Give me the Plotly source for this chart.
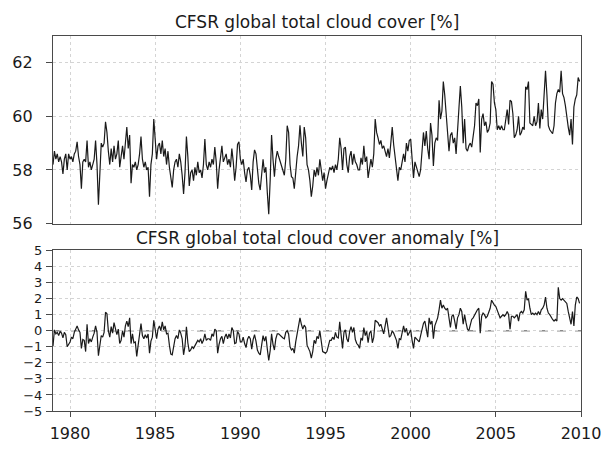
import plotly.graph_objects as go

start_year = 1979
n_years = 31

# monthly global total cloud cover [%], one row per year (Jan..Dec), 1979-2009
total_cover = [
    58.2, 58.7, 58.4, 58.6, 58.3, 58.5, 58.3, 57.85, 58.4, 58.6, 58.0, 58.6,
    58.4, 58.5, 58.3, 58.6, 58.7, 59.05, 58.5, 58.2, 57.3, 58.3, 58.4, 58.3,
    59.1, 58.1, 58.3, 58.0, 58.2, 58.4, 59.1, 58.2, 56.7, 57.8, 59.0, 58.85,
    59.0, 59.8, 59.4, 58.7, 58.2, 58.8, 58.3, 58.9, 58.4, 58.6, 59.1, 58.1,
    58.5, 58.9, 58.4, 59.0, 59.6, 58.8, 59.3, 57.5, 58.2, 58.1, 58.3, 58.0,
    58.2, 58.6, 59.25, 58.4, 58.1, 58.3, 58.0, 58.1, 57.0, 58.2, 58.6, 59.9,
    59.2, 58.4, 58.9, 59.0, 58.6, 59.1, 58.5, 58.8, 58.2, 58.7, 58.1, 57.8,
    57.35, 58.0, 58.3, 58.4, 58.1, 58.6, 58.3, 57.8, 57.1, 57.9, 59.25, 58.5,
    57.4, 57.9, 58.0, 57.6, 58.1, 57.8, 58.3, 57.9, 58.0, 57.7, 58.2, 59.15,
    58.2, 58.0, 58.3, 58.1, 58.4, 58.2, 58.85, 58.3, 57.3, 58.0, 58.5, 58.9,
    58.3, 58.5, 58.6, 58.2, 58.4, 58.1, 58.8, 58.3, 57.6, 58.1, 58.95, 59.05,
    58.4, 58.2, 58.4, 57.9, 57.55, 58.0, 58.1, 57.8, 57.25, 58.3, 58.75, 58.6,
    57.9, 57.5, 57.25, 57.8, 58.4, 57.9, 58.1, 57.15, 56.35, 57.6, 59.3, 58.4,
    57.75, 58.4, 58.7, 58.5, 58.3, 58.2, 58.0, 57.8, 58.4, 59.65, 59.4, 58.2,
    57.75, 57.7, 57.3, 58.0, 58.5, 58.9, 59.67, 59.0, 58.5, 59.6, 59.2, 58.2,
    58.0, 57.6, 57.0, 57.4, 58.0, 57.75, 58.1, 57.8, 58.4, 58.0, 57.6, 57.9,
    57.3, 57.6, 57.9, 58.1, 58.0, 58.15, 57.9, 58.2, 58.0, 58.4, 59.2, 58.8,
    58.0, 58.8, 58.85, 58.2, 57.9, 58.5, 58.7, 58.2, 58.6, 58.3, 58.2, 58.0,
    58.0, 58.45, 58.2, 58.9, 58.3, 58.5, 57.7, 58.15, 58.4, 58.1, 58.6, 59.9,
    59.4, 59.2, 58.95, 59.1, 58.8, 58.9, 58.7, 58.5, 58.8, 58.45, 59.0, 59.6,
    58.95, 58.45, 58.2, 57.6, 58.1, 58.0, 58.3, 58.6, 58.3, 59.0, 58.7, 59.1,
    59.15, 58.3, 57.7, 58.3, 58.1, 57.95, 57.75, 58.0, 58.6, 59.4, 58.9, 59.45,
    58.8, 58.4, 59.75, 59.3, 58.15, 59.0, 59.2, 59.1, 60.6, 59.9, 60.2, 61.3,
    60.8, 60.1, 59.75, 58.7, 59.3, 59.4, 59.0, 59.2, 58.6, 59.65, 60.3, 61.13,
    60.35, 59.0, 59.9, 58.8, 58.7, 58.9, 59.0, 58.85, 59.3, 59.65, 60.5, 60.4,
    60.65, 58.65, 59.9, 60.1, 59.65, 59.8, 59.4, 59.5, 59.75, 61.3, 61.2, 60.5,
    60.25, 59.5, 59.65, 59.5, 59.65, 59.5, 59.5, 59.8, 60.25, 59.7, 60.6, 60.55,
    60.1, 59.2, 59.3, 59.5, 60.0, 59.3, 59.4, 59.6, 59.5, 61.1, 61.0, 61.3,
    59.75, 59.7, 59.65, 60.0, 59.65, 59.8, 60.5, 59.55, 60.25, 59.9, 60.8, 61.7,
    60.8, 59.65, 59.5, 59.4, 59.35, 59.65, 60.5, 60.85, 61.0, 60.9, 61.7, 60.85,
    60.7, 60.4, 59.9, 59.6, 59.3, 59.9, 58.95, 60.35, 60.65, 60.8, 61.45, 61.3,
]

# monthly anomaly [%], one row per year (Jan..Dec), 1979-2009
anomaly = [
    -0.95, 0.05, -0.2, -0.1, -0.3, -0.05, -0.15, -0.45, -0.1, -0.25, -1.0, -0.85,
    -0.7, -0.4, -0.5, -0.1, 0.1, 0.3, 0.05, -0.1, -1.1, -0.55, -0.6, -1.3,
    0.4, -0.8, -0.5, -0.7, -0.4, -0.15, 0.3, -0.1, -1.55, -1.05, -0.3, -0.4,
    -0.1, 1.15, 1.05, 0.0, -0.4, 0.25, -0.15, 0.5, 0.0, -0.25, 0.1, -0.8,
    -0.6, 0.0, -0.4, 0.3, 0.6, 0.25, 0.8, -0.8, -0.2, -0.75, -0.7, -1.6,
    -0.9, -0.3, 0.45, -0.3, -0.5, -0.25, -0.45, -0.2, -1.4, -0.65, -0.4, 0.65,
    0.1, -0.5, 0.1, 0.3, 0.0, 0.55, 0.05, 0.3, -0.2, -0.15, -0.9, -1.45,
    -1.5, -0.9, -0.5, -0.3, -0.5, 0.05, -0.15, -0.5, -1.5, -0.95, 0.25, -0.75,
    -1.3, -1.2, -1.0, -1.1, -0.9, -0.8, -0.6, -0.7, -0.5, -0.8, -0.6, -0.2,
    -0.6, -0.5, -0.5, -0.6, -0.2, -0.35, 0.1, 0.0, -1.4, -0.85, -0.5, -0.35,
    -0.8, -0.4, -0.2, -0.5, -0.2, -0.45, 0.2, 0.0, -0.8, -0.75, -0.05, -0.2,
    -0.7, -0.7, -0.4, -0.8, -1.05, -0.55, -0.35, -0.5, -1.15, -0.55, -0.25, -0.65,
    -1.2, -1.4, -1.5, -0.9, -0.3, -0.65, -0.35, -1.15, -1.85, -1.25, -0.2, -0.85,
    -1.2, -0.5, -0.2, -0.2, -0.3, -0.35, -0.45, -0.5, -0.1, 0.0, -0.2, -1.0,
    -1.2, -1.1, -1.4, -0.7, -0.1, 0.35, 0.8, 0.4, 0.1, 0.35, 0.2, -0.9,
    -1.1, -1.3, -1.7, -1.3, -0.6, -0.8, -0.35, -0.5, 0.0, -0.85, -1.3, -1.35,
    -1.4, -1.3, -0.9, -0.6, -0.6, -0.4, -0.55, -0.1, -0.4, -0.45, 0.55, -0.45,
    -1.1, -0.1, 0.05, -0.5, -0.7, -0.05, 0.25, -0.1, 0.2, -0.55, -0.8, -0.9,
    -1.1, -0.45, -0.6, 0.2, -0.3, -0.05, -0.75, -0.15, 0.0, -0.75, -0.4, 0.65,
    0.6, 0.5, 0.3, 0.4, 0.1, -0.2, 0.3, 0.8, 0.2, -0.4, -0.3, 0.0,
    -0.15, -0.45, -0.6, -1.1, -0.5, -0.55, -0.15, 0.3, -0.1, 0.15, -0.3, -0.15,
    0.05, -0.6, -1.1, -0.4, -0.5, -0.6, -0.7, -0.3, 0.2, 0.45, 0.6, 0.0,
    -0.4, 0.8, 0.4, 0.6, -0.5, 0.3, 0.6, 0.8, 1.3, 1.9, 1.4, 1.6,
    1.4, 1.3, 1.4, 0.6, 0.2, 0.9, 1.0, 0.6, 0.1, 0.8, 1.0, 1.4,
    1.2, 0.4, 1.0, 0.5, 0.1, 0.0, 0.4, 0.7, 0.8, 1.0, 1.2, 1.3,
    1.4, -0.15, 0.9, 1.1, 1.0, 0.8, 0.9, 1.1, 1.4, 1.9, 1.7, 1.6,
    1.5, 1.3, 1.0, 0.8, 0.9, 1.0, 0.9, 1.0, 1.2, 1.0, 0.1, 0.9,
    0.9, 0.8, 0.9, 1.0, 0.6, 1.1, 1.2, 1.1, 1.3, 2.45, 1.9, 2.0,
    1.4, 1.0, 1.1, 1.0, 1.1, 1.0, 1.2, 1.0, 1.3, 1.4, 1.6, 2.1,
    1.4, 1.1, 1.0, 0.8, 0.7, 0.6, 0.7, 0.6, 2.7, 2.0, 1.9, 2.0,
    1.9, 1.8, 1.7, 1.2, 0.7, 0.4, 1.2, 0.3, 1.6, 2.1, 2.0, 1.7,
]

x_tickvals = [1980, 1985, 1990, 1995, 2000, 2005, 2010]
x_ticktext = ["1980", "1985", "1990", "1995", "2000", "2005", "2010"]
top_tickvals = [56, 58, 60, 62]
bottom_tickvals = [-5, -4, -3, -2, -1, 0, 1, 2, 3, 4, 5]
bottom_ticktext = ["\u22125", "\u22124", "\u22123", "\u22122", "\u22121", "0", "1", "2", "3", "4", "5"]
title_top = "CFSR global total cloud cover [%]"
title_bottom = "CFSR global total cloud cover anomaly [%]"

months = [start_year + i / 12.0 for i in range(n_years * 12)]

FONT = "DejaVu Sans"
TXT = "#1a1a1a"
FRAME = "#4a4a4a"
GRID = "#d4d4d4"

fig = go.Figure()
fig.add_trace(go.Scatter(x=months, y=total_cover, mode="lines",
                         line=dict(color="#1a1a1a", width=1.2),
                         xaxis="x", yaxis="y", showlegend=False))
fig.add_trace(go.Scatter(x=months, y=anomaly, mode="lines",
                         line=dict(color="#1a1a1a", width=1.2),
                         xaxis="x2", yaxis="y2", showlegend=False))

# zero reference line in anomaly panel
fig.add_shape(type="line", xref="x2", yref="y2", x0=1979, x1=2010, y0=0, y1=0,
              line=dict(color="#8a8a8a", width=1.4, dash="dash"), layer="below")

common_x = dict(range=[1979, 2010], tickvals=x_tickvals, ticktext=x_ticktext,
                showgrid=True, gridcolor=GRID, griddash="dot", gridwidth=1,
                showline=True, linecolor=FRAME, linewidth=1.2, mirror=True,
                zeroline=False,
                tickfont=dict(family=FONT, size=16, color=TXT))

fig.update_layout(
    width=614, height=455,
    margin=dict(l=50, r=33, t=36, b=29),
    paper_bgcolor="white", plot_bgcolor="white",
    xaxis=dict(domain=[0, 1], anchor="y", showticklabels=False, ticks="", **common_x),
    yaxis=dict(domain=[0.5, 1.0], anchor="x", range=[56, 63], tickvals=top_tickvals,
               showgrid=True, gridcolor=GRID, griddash="dot", gridwidth=1,
               showline=True, linecolor=FRAME, linewidth=1.2, mirror=True,
               zeroline=False, ticks="outside", ticklen=6, tickcolor=FRAME,
               ticklabelstandoff=10,
               tickfont=dict(family=FONT, size=16, color=TXT)),
    xaxis2=dict(domain=[0, 1], anchor="y2", ticks="outside", ticklen=5, tickcolor=FRAME,
                ticklabelstandoff=3, **common_x),
    yaxis2=dict(domain=[0, 0.4282], anchor="x2", range=[-5, 5], tickvals=bottom_tickvals,
                ticktext=bottom_ticktext,
                showgrid=True, gridcolor=GRID, griddash="dot", gridwidth=1,
                showline=True, linecolor=FRAME, linewidth=1.2, mirror=True,
                zeroline=False, ticks="outside", ticklen=6, tickcolor=FRAME,
                ticklabelstandoff=1,
                tickfont=dict(family=FONT, size=13, color=TXT)),
    annotations=[
        dict(text=title_top, xref="paper", yref="paper", x=0.5, y=1.0385,
             xanchor="center", yanchor="middle", showarrow=False,
             font=dict(family=FONT, size=17, color=TXT)),
        dict(text=title_bottom, xref="paper", yref="paper", x=0.5, y=0.4615,
             xanchor="center", yanchor="middle", showarrow=False,
             font=dict(family=FONT, size=17, color=TXT)),
    ],
)

fig.write_html("out.html")
